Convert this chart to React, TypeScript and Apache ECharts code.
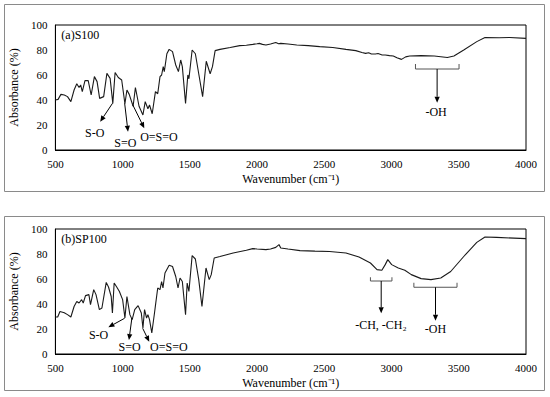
import React, { useEffect, useRef } from "react";
import * as echarts from "echarts";

// ---- data ----
const s100Wavenumber = [500, 520, 541, 566, 590, 615, 639, 659, 676, 688, 700, 720, 744, 766, 790, 810, 829, 859, 883, 907, 927, 944, 968, 993, 1017, 1032, 1049, 1078, 1095, 1122, 1151, 1168, 1188, 1200, 1220, 1244, 1261, 1278, 1290, 1302, 1310, 1329, 1346, 1371, 1395, 1415, 1432, 1444, 1468, 1485, 1493, 1517, 1541, 1566, 1595, 1622, 1651, 1668, 1688, 1724, 1800, 1871, 1920, 1968, 2000, 2017, 2040, 2066, 2100, 2139, 2160, 2176, 2230, 2295, 2380, 2466, 2563, 2661, 2734, 2780, 2807, 2830, 2850, 2880, 2900, 2930, 2953, 2985, 3013, 3040, 3074, 3105, 3135, 3220, 3318, 3415, 3464, 3537, 3634, 3695, 3800, 3878, 4000];
const s100Absorbance = [40, 40.5, 44.5, 44, 42.7, 38.7, 48, 53, 50, 52, 46.7, 55.5, 55.5, 44, 58.7, 54.7, 41.3, 42.7, 61.3, 57.3, 37.3, 62, 58, 56, 37, 48, 44.5, 35, 50, 35, 28, 38.7, 33, 36, 29, 46.7, 45, 58.7, 60, 66.7, 62.7, 77, 80.5, 78.7, 68, 62.7, 72, 66.7, 37.3, 60, 57, 80, 77, 61, 42.7, 71, 61, 66.7, 79.5, 80.5, 82, 83.5, 83.8, 84.5, 85, 85.3, 84.5, 84, 84.8, 86, 85, 85.3, 84.8, 84, 83.5, 82.7, 82, 80.5, 79.5, 78, 77.3, 77.8, 76.8, 76.8, 77.2, 76, 76, 75.5, 75.2, 73.8, 72.5, 74.5, 75.2, 75.5, 75.2, 74, 75.2, 80, 86.7, 90, 89.8, 90, 89.3];

const sp100Wavenumber = [500, 517, 534, 566, 590, 615, 639, 659, 676, 695, 707, 724, 749, 761, 785, 802, 827, 846, 878, 895, 915, 924, 937, 956, 976, 1000, 1017, 1032, 1054, 1071, 1090, 1115, 1139, 1151, 1163, 1178, 1188, 1200, 1217, 1237, 1244, 1261, 1278, 1290, 1300, 1315, 1346, 1371, 1395, 1412, 1427, 1444, 1468, 1480, 1493, 1517, 1541, 1566, 1590, 1620, 1644, 1659, 1681, 1724, 1822, 1920, 1968, 2000, 2066, 2100, 2139, 2163, 2176, 2230, 2319, 2430, 2539, 2661, 2758, 2843, 2892, 2928, 2953, 2972, 3001, 3050, 3099, 3147, 3220, 3293, 3366, 3440, 3537, 3634, 3695, 3781, 4000];
const sp100Absorbance = [29.6, 29.6, 34, 33, 31.5, 29.6, 38, 42, 40.8, 43.5, 40.8, 46.7, 47.5, 39.5, 51.5, 47.5, 35.5, 36.8, 57.3, 53.6, 46, 32.8, 56.8, 53.6, 50, 43.5, 28.8, 46, 31.5, 27.5, 35.5, 38.7, 32.8, 20.8, 35.5, 28.8, 31.5, 27.5, 16.8, 32.8, 38.7, 52.8, 51.5, 58, 52.8, 64.8, 71, 70, 62, 52.8, 60.8, 58, 31.5, 56.8, 50, 78.7, 76, 59.5, 38, 68.8, 59.5, 63.5, 76.8, 78, 80.8, 83, 84.3, 84, 83.5, 84, 85.3, 87.5, 84.8, 84, 82.7, 82.3, 82, 80.8, 77.6, 72.8, 67.5, 67, 71.5, 75.5, 71.5, 68.8, 67, 63.5, 60.3, 59.5, 60.8, 66, 78, 89.3, 93.6, 93.3, 92.3];

const xTicks = [500, 1000, 1500, 2000, 2500, 3000, 3500, 4000];
const yTicks = [0, 20, 40, 60, 80, 100];
const panelTitles = ["(a)S100", "(b)SP100"];

// annotations in data coordinates [wavenumber, absorbance]
const arrowsTop = [
  { from: [925, 37.4], to: [833, 22.6], label: "S-O", at: [792, 13.6] },
  { from: [1015, 37.4], to: [1040, 14.6], label: "S=O", at: [1020, 5.8] },
  { from: [1076, 36], to: [1161, 17.4], label: "O=S=O", at: [1270, 10.6] },
];
const arrowsBottom = [
  { from: [1015, 28.6], to: [894, 21.4], label: "S-O", at: [821, 15.2] },
  { from: [1069, 28.8], to: [1047, 11.2], label: "S=O", at: [1052, 5.8] },
  { from: [1149, 20.6], to: [1198, 9.8], label: "O=S=O", at: [1344, 5.8] },
];
const bracketsTop = [
  { x1: 3178, x2: 3502, yTop: 68.8, yBar: 64.8, xArrow: 3339, yEnd: 37.8, label: "-OH", at: [3331, 30.6] },
];
const bracketsBottom = [
  { x1: 2843, x2: 3003, yTop: 61.4, yBar: 58.4, xArrow: 2923, yEnd: 32.6, label: "-CH, -CH\u2082", at: [2921, 23.2] },
  { x1: 3166, x2: 3487, yTop: 57, yBar: 53.4, xArrow: 3327, yEnd: 26.6, label: "-OH", at: [3327, 19.8] },
];

const FONT = "'Liberation Serif', 'Times New Roman', serif";

export default function App() {
  const ref = useRef<HTMLDivElement>(null);
  useEffect(() => {
    document.body.style.margin = "0";
    const chart = echarts.init(ref.current!, null, { renderer: "svg" });
    const grids = [
      { left: 46, top: 25, width: 480, height: 125 },
      { left: 46, top: 229, width: 480, height: 125 },
    ];
    const mkX = (i: number) => ({
      type: "value",
      gridIndex: i,
      min: xTicks[0],
      max: xTicks[xTicks.length - 1],
      interval: 500,
      name: "Wavenumber (cm\u207B\u00B9)",
      nameLocation: "middle",
      nameGap: 23,
      nameTextStyle: { fontFamily: FONT, fontSize: 12, color: "#000" },
      axisLine: { show: true, lineStyle: { color: "#000", width: 1 } },
      axisTick: { show: false },
      splitLine: { show: false },
      axisLabel: { fontFamily: FONT, fontSize: 11, color: "#000", margin: 8, formatter: (v: number) => String(v) },
    });
    const mkY = (i: number) => ({
      type: "value",
      gridIndex: i,
      min: yTicks[0],
      max: yTicks[yTicks.length - 1],
      interval: 20,
      name: "Absorbance (%)",
      nameLocation: "middle",
      nameGap: 30,
      nameTextStyle: { fontFamily: FONT, fontSize: 12, color: "#000" },
      axisLine: { show: true, lineStyle: { color: "#000", width: 1 } },
      axisTick: { show: false },
      splitLine: { show: false },
      axisLabel: { fontFamily: FONT, fontSize: 11, color: "#000", margin: 8, formatter: (v: number) => String(v) },
    });
    const zip = (a: number[], b: number[]) => a.map((x, i) => [x, b[i]]);
    chart.setOption({
      animation: false,
      backgroundColor: "#fff",
      grid: grids.map((g) => ({ ...g, show: true, borderColor: "#000", borderWidth: 1, backgroundColor: "transparent" })),
      xAxis: [mkX(0), mkX(1)],
      yAxis: [mkY(0), mkY(1)],
      series: [
        {
          type: "line",
          xAxisIndex: 0,
          yAxisIndex: 0,
          data: zip(s100Wavenumber, s100Absorbance),
          showSymbol: false,
          lineStyle: { color: "#1a1a1a", width: 1.1 },
        },
        {
          type: "line",
          xAxisIndex: 1,
          yAxisIndex: 1,
          data: zip(sp100Wavenumber, sp100Absorbance),
          showSymbol: false,
          lineStyle: { color: "#1a1a1a", width: 1.1 },
        },
      ],
    });

    const px = (g: number, p: number[]) => chart.convertToPixel({ gridIndex: g } as any, p) as number[];
    const graphics: any[] = [];
    // outer frames
    graphics.push({ type: "rect", shape: { x: 4.5, y: 4.5, width: 540, height: 187 }, style: { fill: "none", stroke: "#8a8a8a", lineWidth: 1 }, z: 0 });
    graphics.push({ type: "rect", shape: { x: 4.5, y: 216.5, width: 540, height: 174 }, style: { fill: "none", stroke: "#8a8a8a", lineWidth: 1 }, z: 0 });

    const arrow = (a: number[], b: number[]) => {
      const dx = b[0] - a[0];
      const dy = b[1] - a[1];
      const len = Math.hypot(dx, dy);
      const ux = dx / len, uy = dy / len;
      const hl = 6, hw = 2.6;
      const bx = b[0] - ux * hl, by = b[1] - uy * hl;
      graphics.push({ type: "line", shape: { x1: a[0], y1: a[1], x2: bx, y2: by }, style: { stroke: "#000", lineWidth: 1 }, z: 10 });
      graphics.push({
        type: "polygon",
        shape: { points: [[b[0], b[1]], [bx - uy * hw, by + ux * hw], [bx + uy * hw, by - ux * hw]] },
        style: { fill: "#000" },
        z: 10,
      });
    };
    const label = (p: number[], text: string) => {
      graphics.push({
        type: "text",
        x: p[0],
        y: p[1],
        style: { text, fontFamily: FONT, fontSize: 12, fill: "#000", align: "center", verticalAlign: "middle" },
        z: 10,
      });
    };

    [arrowsTop, arrowsBottom].forEach((list, g) => {
      list.forEach((a) => {
        arrow(px(g, a.from), px(g, a.to));
        label(px(g, a.at), a.label);
      });
    });
    [bracketsTop, bracketsBottom].forEach((list, g) => {
      list.forEach((b) => {
        const p1 = px(g, [b.x1, b.yTop]);
        const p2 = px(g, [b.x1, b.yBar]);
        const p3 = px(g, [b.x2, b.yBar]);
        const p4 = px(g, [b.x2, b.yTop]);
        graphics.push({ type: "polyline", shape: { points: [p1, p2, p3, p4] }, style: { stroke: "#555", lineWidth: 1, fill: "none" }, z: 10 });
        arrow(px(g, [b.xArrow, b.yBar]), px(g, [b.xArrow, b.yEnd]));
        label(px(g, b.at), b.label);
      });
    });
    panelTitles.forEach((t, g) => {
      const p = px(g, [544, 92]);
      graphics.push({
        type: "text",
        x: p[0],
        y: p[1],
        style: { text: t, fontFamily: FONT, fontSize: 12, fill: "#000", align: "left", verticalAlign: "middle" },
        z: 10,
      });
    });
    chart.setOption({ graphic: graphics });

    return () => chart.dispose();
  }, []);
  return <div ref={ref} style={{ width: 550, height: 397 }} />;
}
